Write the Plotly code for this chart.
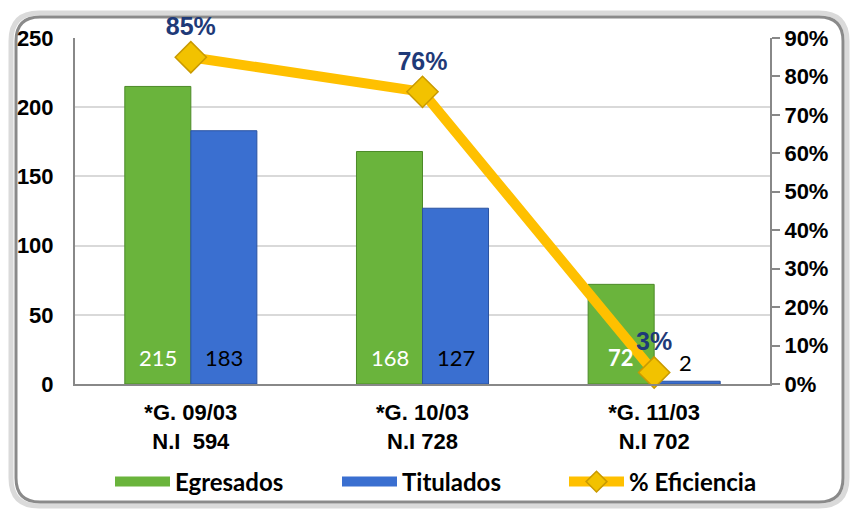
import plotly.graph_objects as go

categories = ["*G. 09/03<br>N.I  594", "*G. 10/03<br>N.I 728", "*G. 11/03<br>N.I 702"]
egresados = [215, 168, 72]
titulados = [183, 127, 2]
eficiencia = [0.85, 0.76, 0.03]
eficiencia_labels = ["85%", "76%", "3%"]

W, H = 850, 509
L, R, T, B = 75, 80, 38, 125
pw, ph = W - L - R, H - T - B

GREEN, GREEN_D = "#6AB43C", "#4C8A28"
BLUE, BLUE_D = "#3A6FD0", "#2A52A0"

def px(x):
    return (x - L) / pw

def py(y):
    return (H - B - y) / ph

fig = go.Figure()

fig.add_trace(go.Bar(
    x=categories, y=egresados, name="Egresados", showlegend=False,
    marker=dict(color=GREEN, line=dict(color=GREEN_D, width=1)),
    yaxis="y",
))
fig.add_trace(go.Bar(
    x=categories, y=titulados, name="Titulados", showlegend=False,
    marker=dict(color=BLUE, line=dict(color=BLUE_D, width=1)),
    yaxis="y",
))
fig.add_trace(go.Scatter(
    x=categories, y=eficiencia, name="% Eficiencia", showlegend=False,
    mode="lines+markers+text",
    line=dict(color="#FFC000", width=10),
    marker=dict(symbol="diamond", size=24, color="#F2C200",
                line=dict(color="#C99A00", width=1.5)),
    text=eficiencia_labels,
    textposition="top center",
    textfont=dict(family="Liberation Sans", size=25, color="#1F3A78", weight="bold"),
    cliponaxis=False,
    yaxis="y2",
))

# legend-only entries (wide swatches like the original)
legend_font = dict(family="Lato", size=24, color="black", weight="bold")
fig.add_trace(go.Scatter(x=[None], y=[None], mode="lines", name="Egresados",
                         line=dict(color=GREEN, width=15)))
fig.add_trace(go.Scatter(x=[None], y=[None], mode="lines", name="Titulados",
                         line=dict(color=BLUE, width=15)))
fig.add_trace(go.Scatter(x=[None], y=[None], mode="lines+markers", name="% Eficiencia",
                         line=dict(color="#FFC000", width=10),
                         marker=dict(symbol="diamond", size=22, color="#F2C200",
                                     line=dict(color="#C99A00", width=1.5))))

# bar value labels
annotations = []
for i, c in enumerate(categories):
    annotations.append(dict(x=c, y=0, xref="x", yref="y", text=str(egresados[i]),
                            showarrow=False, xshift=-33, yshift=27, yanchor="middle",
                            font=dict(family="Lato", size=22, color="white",
                                      weight="bold" if egresados[i] < 100 else "normal")))
    if titulados[i] >= 20:
        annotations.append(dict(x=c, y=0, xref="x", yref="y", text=str(titulados[i]),
                                showarrow=False, xshift=33, yshift=27, yanchor="middle",
                                font=dict(family="Lato", size=22, color="black")))
    else:
        annotations.append(dict(x=c, y=titulados[i], xref="x", yref="y", text=str(titulados[i]),
                                showarrow=False, xshift=31, yshift=19, yanchor="middle",
                                font=dict(family="Lato", size=22, color="black")))

# rounded frame
def rrect(x0, y0, x1, y1, r):
    return (f"M {px(x0 + r)},{py(y0)} L {px(x1 - r)},{py(y0)} "
            f"Q {px(x1)},{py(y0)} {px(x1)},{py(y0 + r)} "
            f"L {px(x1)},{py(y1 - r)} Q {px(x1)},{py(y1)} {px(x1 - r)},{py(y1)} "
            f"L {px(x0 + r)},{py(y1)} Q {px(x0)},{py(y1)} {px(x0)},{py(y1 - r)} "
            f"L {px(x0)},{py(y0 + r)} Q {px(x0)},{py(y0)} {px(x0 + r)},{py(y0)} Z")

shapes = [
    dict(type="path", xref="paper", yref="paper", path=rrect(11, 13, 847, 506, 28),
         line=dict(color="#DADADA", width=5), layer="below"),
    dict(type="path", xref="paper", yref="paper", path=rrect(16, 17, 843, 502, 24),
         line=dict(color="#8A8A8A", width=3), layer="below"),
]

tickfont = dict(family="Liberation Sans", size=22, color="black", weight="bold")

fig.update_layout(
    width=W, height=H,
    margin=dict(l=L, r=R, t=T, b=B, autoexpand=False),
    paper_bgcolor="white", plot_bgcolor="white",
    barmode="group", bargap=0.43, bargroupgap=0,
    showlegend=True,
    legend=dict(orientation="h", x=px(110), xanchor="left", y=py(482), yanchor="middle",
                font=legend_font, itemwidth=55, entrywidth=157, entrywidthmode="pixels",
                traceorder="normal", bgcolor="rgba(0,0,0,0)"),
    xaxis=dict(showline=True, linecolor="#888888", linewidth=2, ticks="",
               tickfont=tickfont, automargin=False, ticklabelstandoff=8),
    yaxis=dict(range=[0, 250], dtick=50, showgrid=True, gridcolor="#D9D9D9", gridwidth=1.5,
               showline=True, linecolor="#888888", linewidth=2, ticks="",
               ticklabelstandoff=15, tickfont=tickfont, zeroline=False, automargin=False),
    yaxis2=dict(range=[0, 0.9], dtick=0.1, tickformat=".0%", overlaying="y", side="right",
                showgrid=False, showline=True, linecolor="#888888", linewidth=2,
                ticks="outside", ticklen=8, tickcolor="#888888", tickwidth=1.5,
                tickfont=tickfont, zeroline=False, automargin=False),
    shapes=shapes,
    annotations=annotations,
)

fig.write_html("out.html", config={"displayModeBar": False},
               post_script="document.body.style.margin='0';document.body.style.overflow='hidden';")
